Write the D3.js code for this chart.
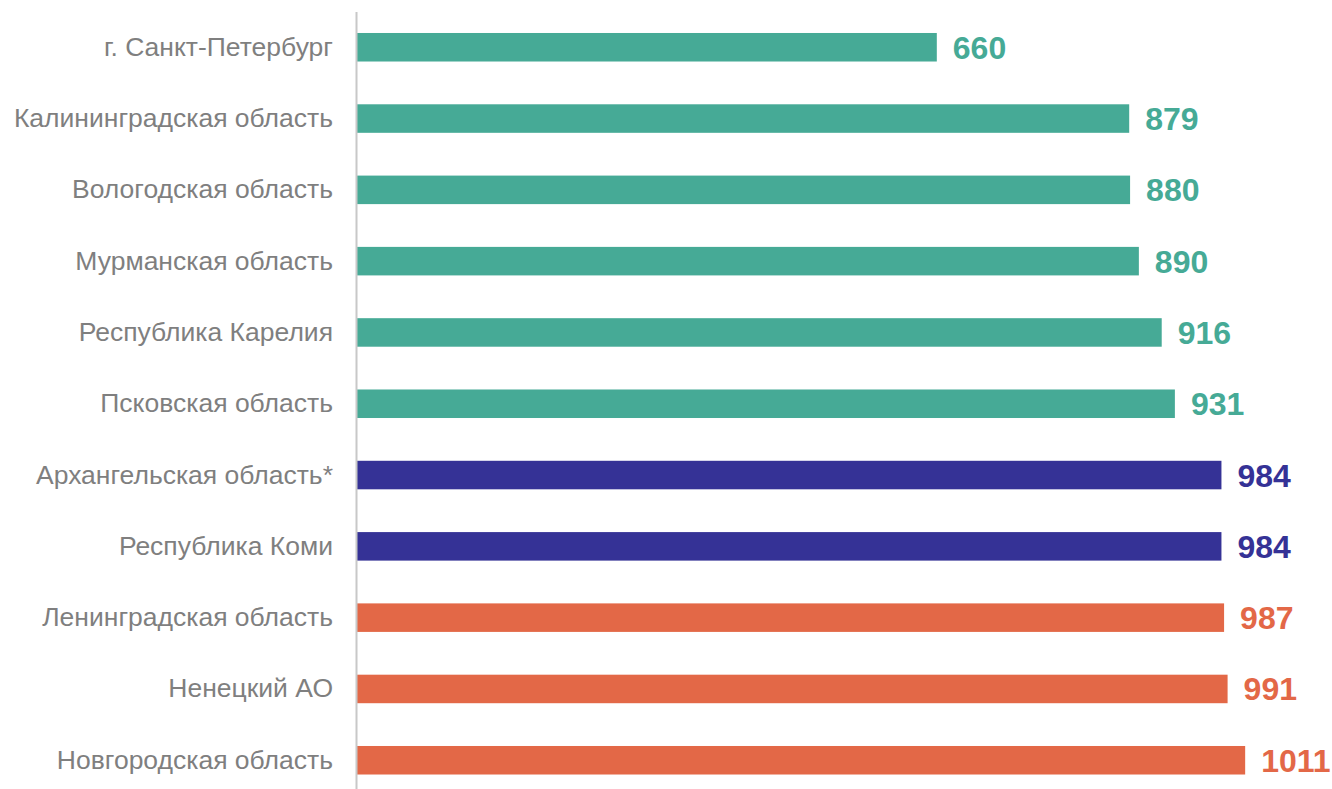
<!DOCTYPE html>
<html><head><meta charset="utf-8">
<script src="https://cdn.jsdelivr.net/npm/d3@7"></script>
<style>html,body{margin:0;padding:0;background:#fff;}</style>
</head><body>
<svg id="c" width="1332" height="789"></svg>
<script>
const categories = ["г. Санкт-Петербург","Калининградская область","Вологодская область","Мурманская область","Республика Карелия","Псковская область","Архангельская область*","Республика Коми","Ленинградская область","Ненецкий АО","Новгородская область"];
const values = [660,879,880,890,916,931,984,984,987,991,1011];
const groups = ["teal","teal","teal","teal","teal","teal","navy","navy","orange","orange","orange"];
const colors = {teal:"#46AA96", navy:"#353296", orange:"#E36847"};

const svg = d3.select("#c");
const x0 = 357;
const x = d3.scaleLinear().domain([0, 1100]).range([x0, x0 + 1100*0.8785]);
const y = d3.scaleBand().domain(categories).range([11.6, 795.9]).paddingInner(0.6).paddingOuter(0.3);

svg.selectAll("rect.bar").data(values).enter().append("rect")
  .attr("class","bar")
  .attr("x", x(0))
  .attr("y", (d,i)=>y(categories[i]))
  .attr("width", d=>x(d)-x(0))
  .attr("height", y.bandwidth())
  .attr("fill", (d,i)=>colors[groups[i]]);

svg.selectAll("text.val").data(values).enter().append("text")
  .attr("class","val")
  .attr("x", d=>x(d)+16)
  .attr("y", (d,i)=>y(categories[i])+y.bandwidth()/2)
  .attr("dy","0.36em")
  .attr("font-family","'Liberation Sans', Arial, sans-serif")
  .attr("font-weight","bold")
  .attr("font-size","32px")
  .attr("fill",(d,i)=>colors[groups[i]])
  .text(d=>d);

const axis = d3.axisLeft(y).tickSize(0).tickPadding(24);
const g = svg.append("g").attr("transform",`translate(${x0},0)`).call(axis);
g.select(".domain").remove();
g.selectAll("text")
  .attr("font-family","'Liberation Sans', Arial, sans-serif")
  .attr("font-size","26.5px")
  .attr("fill","#7F7F7F");
svg.append("line").attr("x1",x0-0.5).attr("x2",x0-0.5).attr("y1",12).attr("y2",789)
  .attr("stroke","#C8C8C8").attr("stroke-width",2);
</script>
</body></html>
